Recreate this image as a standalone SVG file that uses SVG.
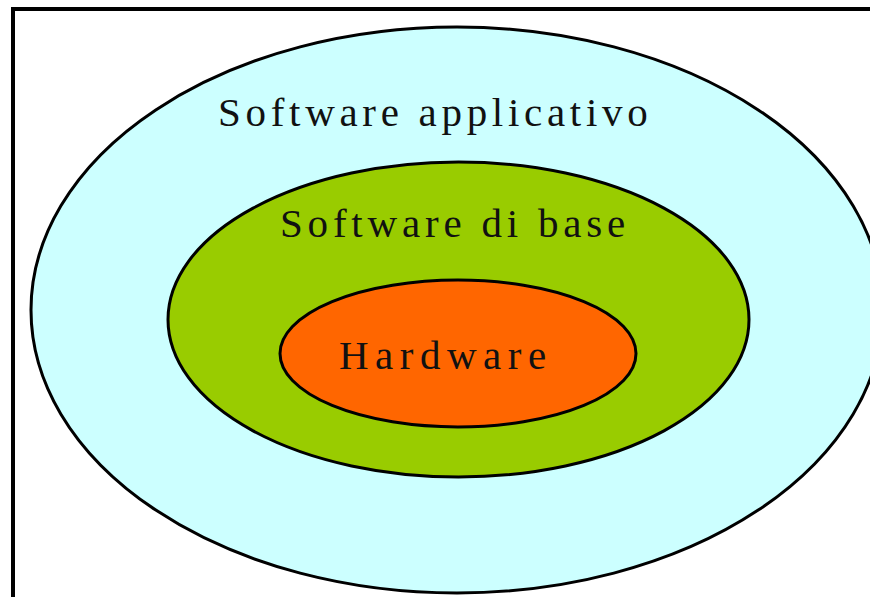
<svg xmlns="http://www.w3.org/2000/svg" width="870" height="597" viewBox="0 0 870 597">
  <style>
    .ring { stroke: #000; stroke-width: 3; }
    .lbl { font-family: "Liberation Serif", "Times New Roman", serif; font-size: 41px; fill: #111; }
  </style>
  <rect x="0" y="0" width="870" height="597" fill="#fff"/>
  <rect id="frame" x="13" y="9" width="900" height="640" fill="none" stroke="#000" stroke-width="4"/>
  <g id="software-applicativo">
    <ellipse class="ring" cx="457" cy="310" rx="426" ry="283" fill="#CCFFFF"/>
    <text class="lbl" x="218" y="126" letter-spacing="4.7">Software applicativo</text>
  </g>
  <g id="software-di-base">
    <ellipse class="ring" cx="458.5" cy="319.5" rx="290.5" ry="157.5" fill="#99CC00"/>
    <text class="lbl" x="280" y="237" letter-spacing="4.8">Software di base</text>
  </g>
  <g id="hardware">
    <ellipse class="ring" cx="458" cy="353.5" rx="178" ry="73.5" fill="#FF6600"/>
    <text class="lbl" x="339" y="369" letter-spacing="6.5">Hardware</text>
  </g>
  <g id="connectors"></g>
</svg>
